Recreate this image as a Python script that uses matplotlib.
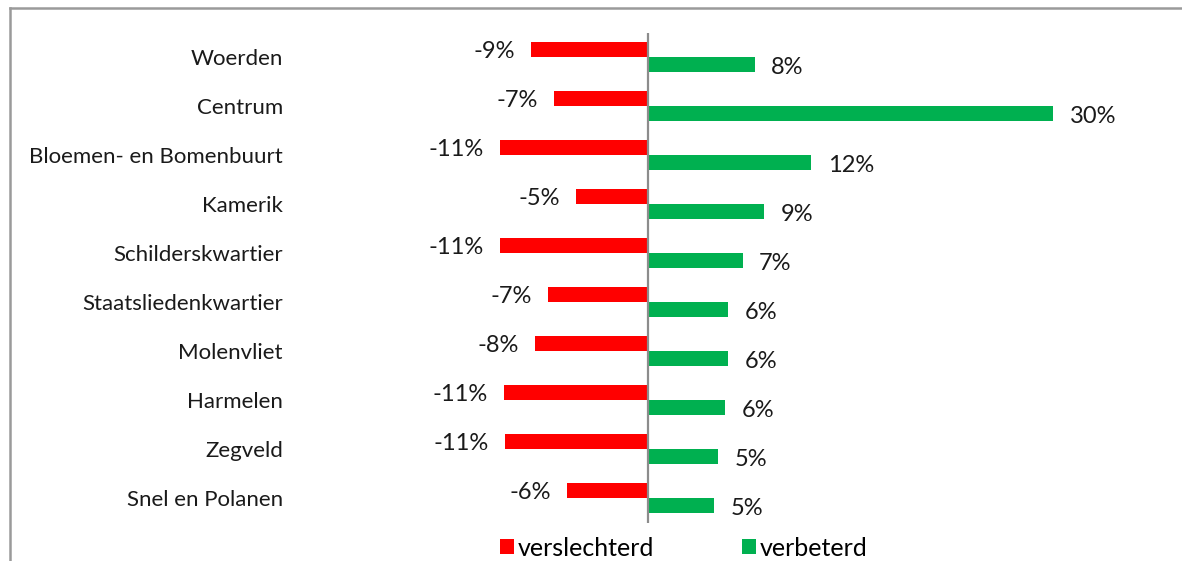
import matplotlib
matplotlib.use("Agg")
import matplotlib.pyplot as plt
from matplotlib.patches import Patch
from matplotlib.lines import Line2D

categories = ["Woerden", "Centrum", "Bloemen- en Bomenbuurt", "Kamerik",
              "Schilderskwartier", "Staatsliedenkwartier", "Molenvliet",
              "Harmelen", "Zegveld", "Snel en Polanen"]
verslechterd = [-8.7, -7.0, -11.0, -5.3, -11.0, -7.4, -8.4, -10.7, -10.6, -6.0]
verbeterd = [7.9, 30.0, 12.1, 8.6, 7.0, 5.9, 5.9, 5.7, 5.2, 4.9]
series_names = ["verslechterd", "verbeterd"]

RED = "#FF0000"
GREEN = "#00B050"
TXT = "#1a1a1a"
FONT = "Lato"
FS_CAT = 16
FS_LBL = 17
FS_LEG = 18

W, H = 1182, 561
fig = plt.figure(figsize=(W / 100, H / 100), dpi=100)
plt.rcParams["font.family"] = FONT

ax_l, ax_r = 378, 1161
ax_t, ax_b = 32.5, 522.5
ax = fig.add_axes([ax_l / W, 1 - ax_b / H, (ax_r - ax_l) / W, (ax_b - ax_t) / H])

y = list(range(len(categories)))
bh = 0.30
ax.barh([i - bh / 2 for i in y], verslechterd, height=bh, color=RED, zorder=2)
ax.barh([i + bh / 2 for i in y], verbeterd, height=bh, color=GREEN, zorder=2)

ax.set_xlim(-20, 38)
ax.set_ylim(9.5, -0.5)
ax.axvline(0, color="#8c8c8c", lw=1.6, zorder=3)

for i, (r, g) in enumerate(zip(verslechterd, verbeterd)):
    ax.annotate(f"{r:.0f}%", (r, i - bh / 2), xytext=(-11.5, -1.5), textcoords="offset points",
                ha="right", va="center", fontsize=FS_LBL, color=TXT, family=FONT)
    ax.annotate(f"{g:.0f}%", (g, i + bh / 2), xytext=(12, -2.5), textcoords="offset points",
                ha="left", va="center", fontsize=FS_LBL, color=TXT, family=FONT)

ax.set_yticks(y)
ax.set_yticklabels(categories, fontsize=FS_CAT, color=TXT, family=FONT)
ax.tick_params(axis="y", length=0, pad=68.4)
ax.set_xticks([])
for s in ax.spines.values():
    s.set_visible(False)
ax.patch.set_alpha(0)

handles = [Patch(facecolor=RED, edgecolor="none"), Patch(facecolor=GREEN, edgecolor="none")]
fig.legend(handles, series_names, loc="center", bbox_to_anchor=(683.5 / W, 1 - 548 / H),
           ncol=2, frameon=False, fontsize=FS_LEG, handlelength=0.56, handleheight=0.56,
           handletextpad=0.16, columnspacing=3.5, borderpad=0)

# outer frame (left and top edges visible)
fig.add_artist(Line2D([10 / W, 10 / W], [0, 1 - 8 / H], transform=fig.transFigure,
                      color="#9a9a9a", lw=1.8))
fig.add_artist(Line2D([10 / W, 1], [1 - 8 / H, 1 - 8 / H], transform=fig.transFigure,
                      color="#9a9a9a", lw=1.8))

fig.savefig("out.png", dpi=100)
